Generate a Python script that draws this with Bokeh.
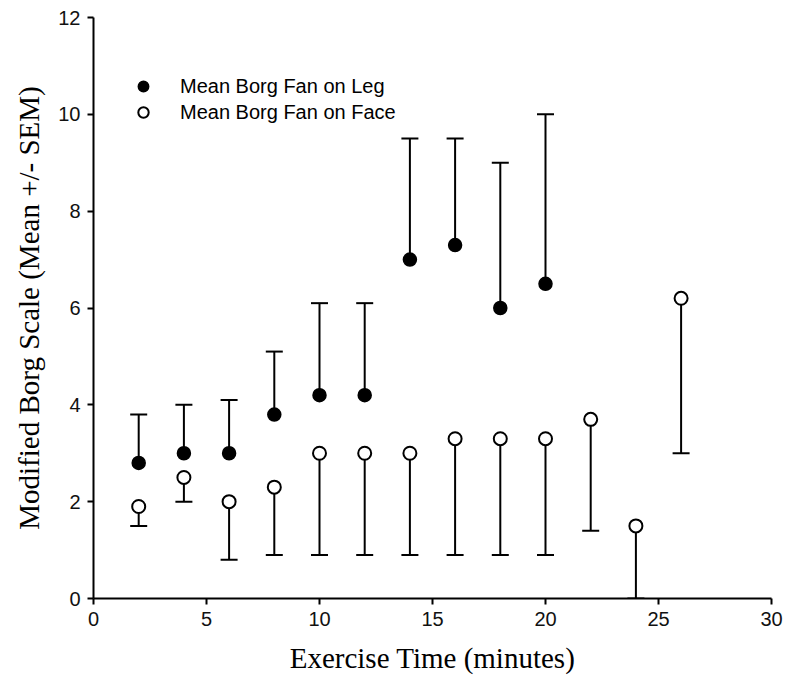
from bokeh.plotting import figure
from bokeh.models import (ColumnDataSource, Whisker, TeeHead, Range1d, Legend,
                          LegendItem, FixedTicker)
from bokeh.embed import file_html
from bokeh.resources import INLINE

# ---- data ----
leg_time = [2, 4, 6, 8, 10, 12, 14, 16, 18, 20]
leg_mean = [2.8, 3.0, 3.0, 3.8, 4.2, 4.2, 7.0, 7.3, 6.0, 6.5]
leg_upper = [3.8, 4.0, 4.1, 5.1, 6.1, 6.1, 9.5, 9.5, 9.0, 10.0]

face_time = [2, 4, 6, 8, 10, 12, 14, 16, 18, 20, 22, 24, 26]
face_mean = [1.9, 2.5, 2.0, 2.3, 3.0, 3.0, 3.0, 3.3, 3.3, 3.3, 3.7, 1.5, 6.2]
face_lower = [1.5, 2.0, 0.8, 0.9, 0.9, 0.9, 0.9, 0.9, 0.9, 0.9, 1.4, 0.0, 3.0]

x_ticks = [0, 5, 10, 15, 20, 25, 30]
y_ticks = [0, 2, 4, 6, 8, 10, 12]

leg_label = "Mean Borg Fan on Leg"
face_label = "Mean Borg Fan on Face"
x_title = "Exercise Time (minutes)"
y_title = "Modified Borg Scale (Mean +/- SEM)"

# ---- figure ----
p = figure(width=788, height=679, output_backend="svg", toolbar_location=None,
           x_range=Range1d(0, 30), y_range=Range1d(0, 12),
           min_border_left=93, min_border_right=17, min_border_top=17,
           min_border_bottom=81)
p.outline_line_color = None
p.xgrid.visible = False
p.ygrid.visible = False
p.background_fill_color = "white"
p.border_fill_color = "white"

for ax in (p.xaxis[0], p.yaxis[0]):
    ax.axis_line_width = 2
    ax.axis_line_color = "black"
    ax.major_tick_line_width = 2
    ax.major_tick_line_color = "black"
    ax.major_tick_out = 6
    ax.major_tick_in = 0
    ax.minor_tick_line_color = None
    ax.major_label_text_font = "Liberation Sans"
    ax.major_label_text_font_size = "20px"
    ax.major_label_text_color = "#111111"
    ax.axis_label_text_font = "Liberation Serif"
    ax.axis_label_text_font_size = "29px"
    ax.axis_label_text_font_style = "normal"
    ax.axis_label_text_color = "black"

p.xaxis.ticker = FixedTicker(ticks=x_ticks)
p.yaxis.ticker = FixedTicker(ticks=y_ticks)
p.xaxis.axis_label = x_title
p.yaxis.axis_label = y_title
p.xaxis.major_label_standoff = 7
p.yaxis.major_label_standoff = 7
p.xaxis.axis_label_standoff = 13
p.yaxis.axis_label_standoff = 10

leg_src = ColumnDataSource(dict(x=leg_time, mean=leg_mean, upper=leg_upper))
face_src = ColumnDataSource(dict(x=face_time, mean=face_mean, lower=face_lower))

w_leg = Whisker(source=leg_src, base="x", lower="mean", upper="upper",
                dimension="height", line_width=2, line_color="black",
                upper_head=TeeHead(size=17, line_width=2, line_color="black"),
                lower_head=None, level="underlay")
w_face = Whisker(source=face_src, base="x", lower="lower", upper="mean",
                 dimension="height", line_width=2, line_color="black",
                 lower_head=TeeHead(size=17, line_width=2, line_color="black"),
                 upper_head=None, level="underlay")
p.add_layout(w_leg)
p.add_layout(w_face)

r_leg = p.scatter("x", "mean", source=leg_src, size=13, marker="circle",
                  fill_color="black", line_color="black", line_width=1.5)
r_face = p.scatter("x", "mean", source=face_src, size=13, marker="circle",
                   fill_color="white", line_color="black", line_width=2)

legend = Legend(items=[LegendItem(label=leg_label, renderers=[r_leg]),
                       LegendItem(label=face_label, renderers=[r_face])],
                location=(35, 473), padding=0, margin=0, spacing=0,
                glyph_width=30, glyph_height=26, label_height=26,
                label_standoff=22, border_line_color=None,
                background_fill_alpha=0,
                label_text_font="Liberation Sans", label_text_font_size="20px",
                label_text_color="black")
p.add_layout(legend)

open("out.html", "w").write(file_html(p, INLINE))
